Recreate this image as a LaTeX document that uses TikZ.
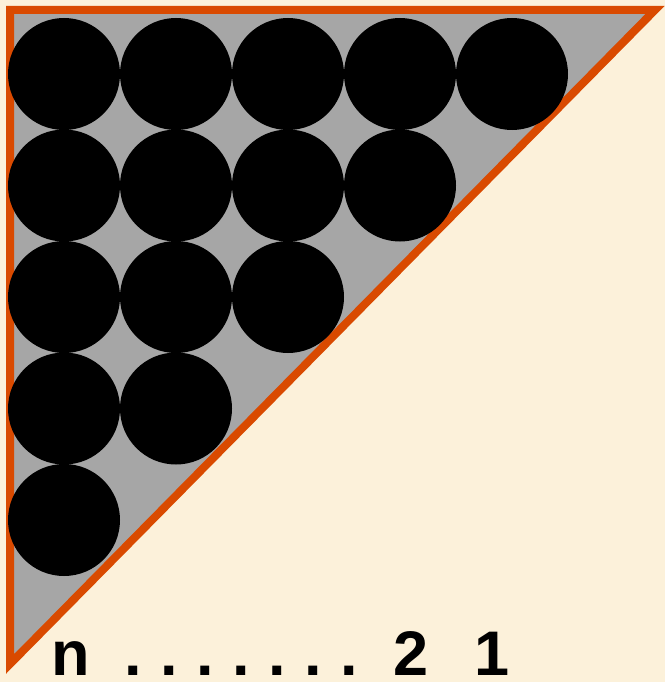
\documentclass[tikz,border=0pt]{standalone}
\usepackage{fontspec}
\setmainfont{Liberation Sans}
\definecolor{stackBgColor}{RGB}{252,241,218}
\definecolor{stackFillColor}{RGB}{166,166,166}
\definecolor{stackEdgeColor}{RGB}{217,74,0}
\begin{document}
\begin{tikzpicture}[x=1pt,y=-1pt]
            \tikzset{ball/.style={circle, fill=black, inner sep=0pt, minimum size=112pt},
                     count/.style={inner sep=0pt, anchor=base, text depth=0pt, font=\fontsize{63}{63}\selectfont\bfseries}}

            \fill[stackBgColor] (0,0) rectangle (665,682);
            \useasboundingbox (0,0) rectangle (665,682);

            \coordinate (tl) at (10,10);
            \coordinate (tr) at (655,10);
            \coordinate (bl) at (10,664);
            \filldraw[fill=stackFillColor, draw=stackEdgeColor, line width=8pt, line join=miter] (tl) -- (tr) -- (bl) -- cycle;

            % rows of balls, one fewer per row
            \foreach \row in {1,...,5}{
                \pgfmathtruncatemacro{\last}{6-\row}
                \foreach \col in {1,...,\last}{
                    \node[ball] (ball-\row-\col) at ({64+112*(\col-1)},{74+111.5*(\row-1)}) {};
                }
            }

            \node[count] (lblN) at (71,675) {n};
            \foreach \i in {1,...,7}{
                \node[count] (lblDot-\i) at ({133+36*(\i-1)},675) {.};
            }
            \node[count] (lblTwo) at (411,675) {2};
            \node[count] (lblOne) at (492,675) {1};
        \end{tikzpicture}
\end{document}
